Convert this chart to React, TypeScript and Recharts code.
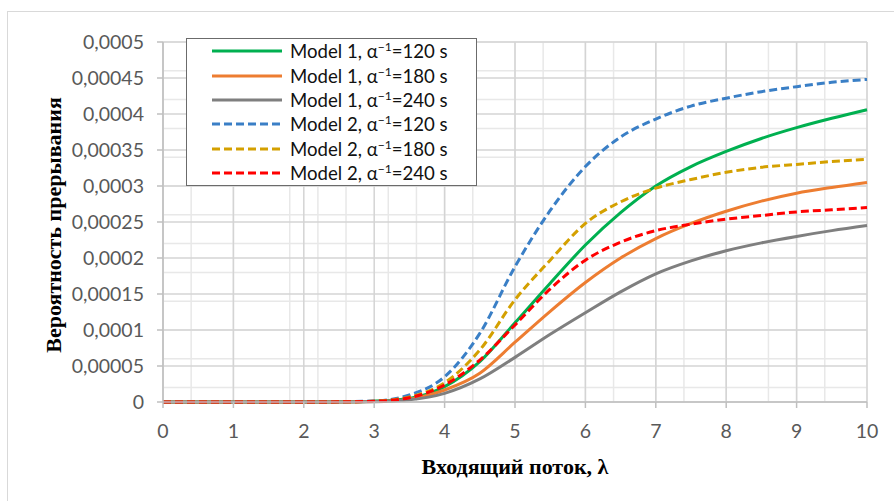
import React from 'react';
import {
  LineChart,
  Line,
  XAxis,
  YAxis,
  CartesianGrid,
  Legend,
} from 'recharts';

// incoming flow (x axis)
const lambda = [0, 0.5, 1, 1.5, 2, 2.5, 3, 3.5, 4, 4.5, 5, 5.5, 6, 6.5, 7, 7.5, 8, 8.5, 9, 9.5, 10];

// interruption probability
const model1A120 = [0, 0, 0, 0, 0, 0.0000002, 0.0000012, 0.000005, 0.0000213, 0.000056, 0.00011, 0.000165, 0.000218, 0.000263, 0.0003, 0.000327, 0.000348, 0.000366, 0.000381, 0.000394, 0.000406];
const model1A180 = [0, 0, 0, 0, 0, 0.0000001, 0.0000006, 0.000004, 0.0000167, 0.00004, 0.000083, 0.000126, 0.000166, 0.0002, 0.000227, 0.000248, 0.000265, 0.000279, 0.00029, 0.000298, 0.000305];
const model1A240 = [0, 0, 0, 0, 0, 0, 0.0000004, 0.000003, 0.000012, 0.000032, 0.000062, 0.000094, 0.000124, 0.000153, 0.000178, 0.000196, 0.00021, 0.000221, 0.00023, 0.000238, 0.000245];
const model2A120 = [0, 0, 0, 0, 0, 0.0000003, 0.0000015, 0.0000097, 0.0000351, 0.0000953, 0.000188, 0.000266, 0.000327, 0.000368, 0.000393, 0.000411, 0.000422, 0.000431, 0.000438, 0.000444, 0.000448];
const model2A180 = [0, 0, 0, 0, 0, 0.0000002, 0.000001, 0.000007, 0.0000268, 0.0000722, 0.000142, 0.000197, 0.000248, 0.000278, 0.000297, 0.000309, 0.000319, 0.000326, 0.00033, 0.000334, 0.000337];
const model2A240 = [0, 0, 0, 0, 0, 0.0000002, 0.000001, 0.000006, 0.0000236, 0.0000583, 0.000107, 0.000157, 0.000197, 0.000222, 0.000238, 0.000247, 0.000254, 0.000259, 0.000264, 0.000267, 0.00027];

const xTicks = [0, 1, 2, 3, 4, 5, 6, 7, 8, 9, 10];
const yTicks = [0, 0.00005, 0.0001, 0.00015, 0.0002, 0.00025, 0.0003, 0.00035, 0.0004, 0.00045, 0.0005];
// minor grid: 0.2 on x, 0.00001 on y
const xMinorTicks = Array.from({ length: 51 }, (_, i) => i * 0.2);
const yMinorTicks = Array.from({ length: 51 }, (_, i) => i * 0.00001);

const data = lambda.map((x, i) => ({
  x,
  m1a120: model1A120[i],
  m1a180: model1A180[i],
  m1a240: model1A240[i],
  m2a120: model2A120[i],
  m2a180: model2A180[i],
  m2a240: model2A240[i],
}));

const series = [
  { key: 'm1a120', model: 'Model 1', alpha: '120', color: '#00b050', dash: undefined },
  { key: 'm1a180', model: 'Model 1', alpha: '180', color: '#ed7d31', dash: undefined },
  { key: 'm1a240', model: 'Model 1', alpha: '240', color: '#7f7f7f', dash: undefined },
  { key: 'm2a120', model: 'Model 2', alpha: '120', color: '#3a7fc6', dash: '8 4' },
  { key: 'm2a180', model: 'Model 2', alpha: '180', color: '#d4a000', dash: '8 4' },
  { key: 'm2a240', model: 'Model 2', alpha: '240', color: '#ff0000', dash: '8 4' },
];

const FONT = 'Lato, "Open Sans", sans-serif';
const SERIF = '"Liberation Serif", "DejaVu Serif", serif';

const fmt = (v: number) => String(v).replace('.', ',');

const LegendBox = () => (
  <div
    style={{
      border: '1.5px solid #6b6b6b',
      background: '#fff',
      width: 291,
      height: 148,
      boxSizing: 'border-box',
      fontFamily: FONT,
      fontSize: 18.6,
      color: '#111',
    }}
  >
    {series.map((s) => (
      <div key={s.key} style={{ display: 'flex', alignItems: 'center', height: 24.4 }}>
        <svg width={95} height={10} style={{ flex: 'none' }}>
          <line x1={25} x2={95} y1={5} y2={5} stroke={s.color} strokeWidth={3} strokeDasharray={s.dash} />
        </svg>
        <span style={{ marginLeft: 8, whiteSpace: 'nowrap', lineHeight: '20px' }}>
          {s.model}, α<sup style={{ fontSize: '0.65em', lineHeight: 0 }}>−1</sup>={s.alpha} s
        </span>
      </div>
    ))}
  </div>
);

export default function App() {
  return (
    <div style={{ position: 'absolute', left: 0, top: 0, width: 894, height: 501, overflow: 'hidden', background: '#fff' }}>
      <div
        style={{
          position: 'absolute',
          left: 7,
          top: 11,
          width: 1000,
          height: 1000,
          border: '1px solid #d9d9d9',
        }}
      />
      <LineChart width={894} height={501} data={data} margin={{ top: 42, right: 27, bottom: 0, left: 0 }}>
        <CartesianGrid
          verticalValues={xMinorTicks}
          horizontalValues={yMinorTicks}
          stroke="#e8e8e8"
          strokeWidth={1.5}
        />
        <CartesianGrid stroke="#d4d4d4" strokeWidth={1.5} />
        <XAxis
          dataKey="x"
          type="number"
          domain={[0, 10]}
          ticks={xTicks}
          height={99}
          stroke="#bfbfbf"
          strokeWidth={1.5}
          tickSize={6}
          tickMargin={16}
          tick={{ fill: '#595959', fontSize: 19.5, fontFamily: FONT }}
          label={{
            value: 'Входящий поток, λ',
            position: 'insideBottom',
            offset: 27,
            style: { fontFamily: SERIF, fontWeight: 'bold', fontSize: 22, fill: '#000' },
          }}
        />
        <YAxis
          type="number"
          domain={[0, 0.0005]}
          ticks={yTicks}
          width={163}
          stroke="#bfbfbf"
          strokeWidth={1.5}
          tickSize={6}
          tickMargin={13}
          tickFormatter={fmt}
          tick={{ fill: '#595959', fontSize: 19.5, fontFamily: FONT }}
          label={{
            value: 'Вероятность прерывания',
            angle: -90,
            position: 'center',
            dx: -28,
            dy: 3,
            style: { fontFamily: SERIF, fontWeight: 'bold', fontSize: 22, fill: '#000', textAnchor: 'middle' },
          }}
        />
        <Legend
          layout="vertical"
          align="center"
          verticalAlign="middle"
          content={LegendBox}
          wrapperStyle={{ left: 186, top: 38, width: 291, height: 148 }}
        />
        {series.map((s) => (
          <Line
            key={s.key}
            dataKey={s.key}
            type="monotone"
            stroke={s.color}
            strokeWidth={3}
            strokeDasharray={s.dash}
            dot={false}
            activeDot={false}
            isAnimationActive={false}
          />
        ))}
      </LineChart>
    </div>
  );
}
